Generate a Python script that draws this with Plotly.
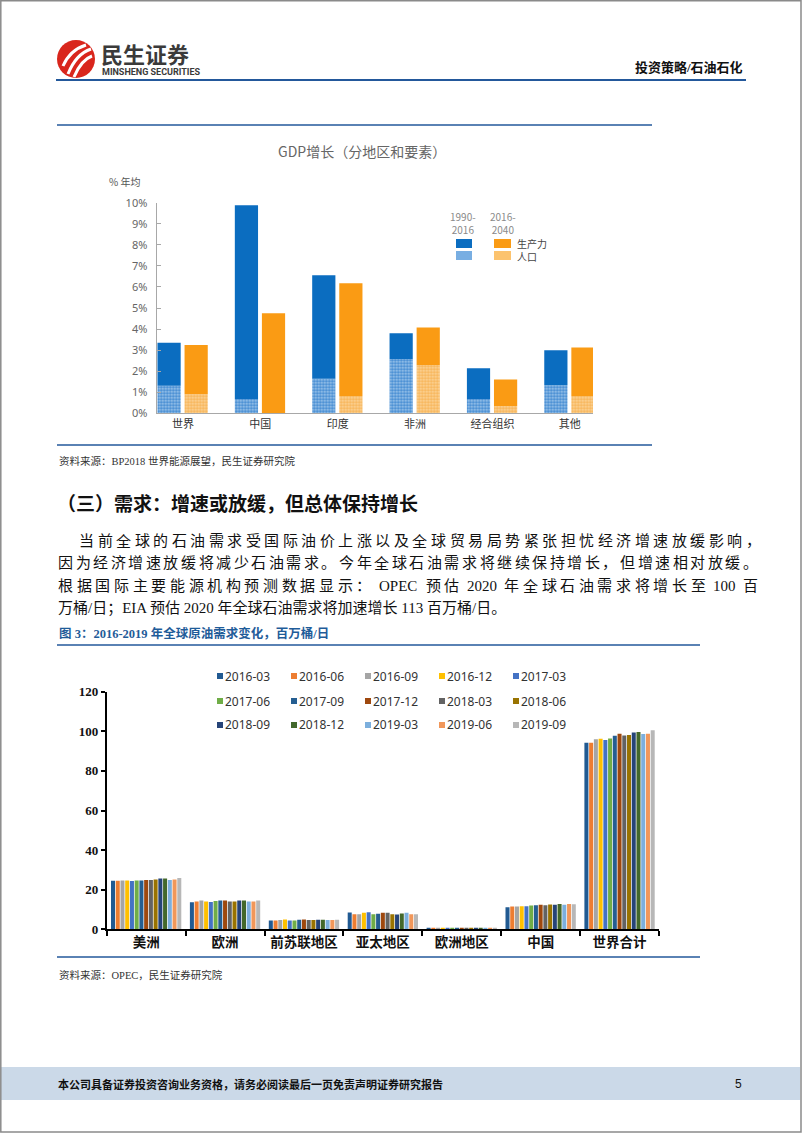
import re
import plotly.graph_objects as go

W, H = 802, 1133


def px(x):
    return x / W


def py(y):
    return 1 - y / H


# ---------------- data: GDP growth chart ----------------
gdp_regions = ["世界", "中国", "印度", "非洲", "经合组织", "其他"]
gdp_pop_9016 = [1.31, 0.68, 1.64, 2.58, 0.68, 1.33]      # 1990-2016 population
gdp_prod_9016 = [2.04, 9.20, 4.91, 1.22, 1.46, 1.66]     # 1990-2016 productivity
gdp_pop_1640 = [0.90, 0.00, 0.82, 2.29, 0.35, 0.82]      # 2016-2040 population
gdp_prod_1640 = [2.34, 4.75, 5.35, 1.79, 1.26, 2.31]     # 2016-2040 productivity
gdp_period_labels = ["1990-<br>2016", "2016-<br>2040"]
gdp_factor_labels = ["生产力", "人口"]

# ---------------- data: oil demand chart ----------------
oil_regions = ["美洲", "欧洲", "前苏联地区", "亚太地区", "欧洲地区", "中国", "世界合计"]
periods = ["2016-03", "2016-06", "2016-09", "2016-12", "2017-03",
           "2017-06", "2017-09", "2017-12", "2018-03", "2018-06",
           "2018-09", "2018-12", "2019-03", "2019-06", "2019-09"]
america = [24.5, 24.5, 24.7, 24.7, 24.4, 24.7, 24.7, 24.9, 24.9, 25.2, 25.7, 25.7, 24.9, 25.2, 25.9]
europe = [13.6, 14.0, 14.5, 14.1, 13.8, 14.3, 14.6, 14.5, 14.0, 14.1, 14.6, 14.5, 14.0, 14.1, 14.6]
fsu = [4.5, 4.5, 4.7, 5.0, 4.5, 4.5, 4.8, 5.0, 4.7, 4.7, 4.8, 4.8, 4.7, 4.7, 4.8]
asia_pacific = [8.5, 7.6, 7.6, 8.4, 8.6, 7.6, 7.8, 8.3, 8.4, 7.6, 7.5, 8.0, 8.3, 7.6, 7.6]
europe_region = [0.5, 0.6, 0.6, 0.6, 0.6, 0.6, 0.6, 0.7, 0.6, 0.7, 0.7, 0.8, 0.7, 0.6, 0.6]
china = [11.1, 11.5, 11.5, 11.7, 11.7, 12.0, 12.1, 12.4, 12.1, 12.5, 12.4, 12.8, 12.4, 12.8, 12.7]
world = [94.2, 94.2, 96.0, 96.3, 95.6, 96.4, 97.8, 98.7, 97.9, 98.1, 99.4, 99.6, 98.6, 98.7, 100.5]
oil_y_ticks = [0, 20, 40, 60, 80, 100, 120]

# ---------------- styles ----------------
BLUE = "#0B6DC0"
BLUE_POP_BG = "#A9CDEF"
BLUE_POP_FG = "#3C86CF"
ORANGE = "#FA9B14"
ORANGE_POP_BG = "#FDD9A0"
ORANGE_POP_FG = "#F7B254"
LINE_BLUE = "#23589B"
series_colors = ["#215A92", "#ED7D31", "#A5A5A5", "#FFC000", "#4472C4",
                 "#70AD47", "#255E91", "#9E480E", "#636363", "#997300",
                 "#264478", "#43682B", "#7CAFDD", "#F1975A", "#B7B7B7"]
CJK = "Noto Sans CJK SC"
SERIF = "Liberation Serif, Noto Sans CJK SC"

fig = go.Figure()

# ---------------- chart 1 bars ----------------
OFF_A, OFF_B, BW = -0.33, 0.02, 0.30
fig.add_bar(x=gdp_regions, y=gdp_pop_9016, base=[0] * len(gdp_regions), offset=OFF_A, width=BW,
            marker=dict(color=BLUE_POP_BG, line=dict(width=0),
                        pattern=dict(shape=".", fgcolor=BLUE_POP_FG, bgcolor=BLUE_POP_BG,
                                     size=3, solidity=0.55, fillmode="replace")),
            xaxis="x", yaxis="y", showlegend=False, name="人口 1990-2016")
fig.add_bar(x=gdp_regions, y=gdp_prod_9016, base=gdp_pop_9016, offset=OFF_A, width=BW,
            marker=dict(color=BLUE, line=dict(width=0)),
            xaxis="x", yaxis="y", showlegend=False, name="生产力 1990-2016")
fig.add_bar(x=gdp_regions, y=gdp_pop_1640, base=[0] * len(gdp_regions), offset=OFF_B, width=BW,
            marker=dict(color=ORANGE_POP_BG, line=dict(width=0),
                        pattern=dict(shape=".", fgcolor=ORANGE_POP_FG, bgcolor=ORANGE_POP_BG,
                                     size=3, solidity=0.55, fillmode="replace")),
            xaxis="x", yaxis="y", showlegend=False, name="人口 2016-2040")
fig.add_bar(x=gdp_regions, y=gdp_prod_1640, base=gdp_pop_1640, offset=OFF_B, width=BW,
            marker=dict(color=ORANGE, line=dict(width=0)),
            xaxis="x", yaxis="y", showlegend=False, name="生产力 2016-2040")

# ---------------- chart 2 bars ----------------
for i, p in enumerate(periods):
    vals = [america[i], europe[i], fsu[i], asia_pacific[i], europe_region[i], china[i], world[i]]
    fig.add_bar(x=oil_regions, y=vals, name=p, marker=dict(color=series_colors[i], line=dict(width=0)),
                xaxis="x2", yaxis="y2", showlegend=False)

shapes = []
annotations = []


def hline(x0, x1, y, color=LINE_BLUE, width=1.5):
    shapes.append(dict(type="line", xref="paper", yref="paper", x0=px(x0), x1=px(x1),
                       y0=py(y), y1=py(y), line=dict(color=color, width=width)))


def rect(x0, y0, x1, y1, fill, line_color=None, lw=0):
    shapes.append(dict(type="rect", xref="paper", yref="paper", x0=px(x0), x1=px(x1),
                       y0=py(y1), y1=py(y0), fillcolor=fill,
                       line=dict(color=line_color or fill, width=lw), layer="below"))


def text(x, y, s, size, color="#222", family=CJK, xanchor="left", weight="normal", pad=1):
    annotations.append(dict(x=px(x), y=py(y), xref="paper", yref="paper", text=s,
                            showarrow=False, xanchor=xanchor, yanchor="middle", borderpad=pad,
                            align="left" if xanchor == "left" else "center",
                            font=dict(size=size, color=color, family=family, weight=weight)))


# ---------------- page frame ----------------
shapes.append(dict(type="rect", xref="paper", yref="paper", x0=px(0.8), x1=px(801), y0=py(1132), y1=py(0.8),
                   line=dict(color="#8A8A8A", width=1.5), fillcolor="rgba(0,0,0,0)"))

# ---------------- header ----------------
shapes.append(dict(type="circle", xref="paper", yref="paper", x0=px(57), x1=px(95), y0=py(78), y1=py(40),
                   fillcolor="#D9261C", line=dict(color="#D9261C", width=0)))
for (a, b, c) in [((63, 66), (70, 50), (86, 45)), ((68, 74), (76, 54), (91, 49)), ((74, 77), (81, 60), (92, 56))]:
    path = "M {} {} Q {} {} {} {}".format(px(a[0]), py(a[1]), px(b[0]), py(b[1]), px(c[0]), py(c[1]))
    shapes.append(dict(type="path", xref="paper", yref="paper", path=path,
                       line=dict(color="white", width=3)))
text(100, 53, "民生证券", 22, "#3A3A3A", CJK, weight="bold", pad=0)
text(101, 72.5, "MINSHENG SECURITIES", 9, "#3A3A3A", "Roboto, Liberation Sans", weight="bold", pad=0)
text(745, 68, "投资策略/石油石化", 13, "#111", SERIF, xanchor="right", weight="bold")
hline(56, 746, 80, LINE_BLUE, 2)

# ---------------- chart 1 frame & texts ----------------
hline(57, 652, 125)
hline(57, 652, 445)
text(362, 151, "GDP增长（分地区和要素）", 14, "#666", CJK, xanchor="center")
text(107, 181, "% 年均", 10, "#555", CJK)
# legend of chart 1
text(463, 223, gdp_period_labels[0], 10, "#8A8A8A", CJK, xanchor="center")
text(503, 223, gdp_period_labels[1], 10, "#8A8A8A", CJK, xanchor="center")
rect(456, 239, 472, 248, BLUE)
rect(456, 251, 472, 260, "#78AEE2")
rect(494, 239, 511, 248, ORANGE)
rect(494, 251, 511, 260, "#FCC36E")
text(516, 250, "<br>".join(gdp_factor_labels), 10, "#444", CJK, pad=0)
text(57, 461, "资料来源：BP2018 世界能源展望，民生证券研究院", 10.5, "#333", SERIF)

# ---------------- text section ----------------
text(55, 502, "（三）需求：增速或放缓，但总体保持增长", 19, "#111", CJK, weight="bold")

PFS = 15.0


def tok_width(t):
    w = 0.0
    for ch in t:
        if ord(ch) > 0x2E80:
            w += PFS
        elif ch.isdigit():
            w += 0.5 * PFS
        elif ch.isupper():
            w += 0.66 * PFS
        elif ch == "/":
            w += 0.28 * PFS
        else:
            w += 0.5 * PFS
    return w


def para_line(x0, y, s, x1):
    # justified line: CJK characters one by one, latin runs kept together with a space around them
    toks = re.findall(r"[A-Za-z0-9/\-\.]+|[^\sA-Za-z0-9/\-\.]", s)
    sp = 0.25 * PFS
    widths = []
    for t in toks:
        w = tok_width(t)
        if ord(t[0]) < 0x2E80 and t[0].isalnum():
            w += 2 * sp
        widths.append(w)
    n = len(toks)
    gap = (x1 - x0 - sum(widths)) / (n - 1)
    x = x0
    for t, w in zip(toks, widths):
        lx = x + (sp if (ord(t[0]) < 0x2E80 and t[0].isalnum()) else 0)
        text(lx, y, t, PFS, "#111", SERIF, pad=0)
        x += w + gap


para_lines = [
    "当前全球的石油需求受国际油价上涨以及全球贸易局势紧张担忧经济增速放缓影响，",
    "因为经济增速放缓将减少石油需求。今年全球石油需求将继续保持增长，但增速相对放缓。",
    "根据国际主要能源机构预测数据显示：OPEC 预估 2020 年全球石油需求将增长至 100 百",
    "万桶/日；EIA 预估 2020 年全球石油需求将加速增长 113 百万桶/日。",
]
para_line(78, 541, para_lines[0], 760)
para_line(57, 563, para_lines[1], 757)
para_line(57, 586, para_lines[2], 757)
text(57, 608, para_lines[3], PFS, "#111", SERIF, pad=0)

text(57, 633, "图 3：2016-2019 年全球原油需求变化，百万桶/日", 12.5, "#1F5C99", SERIF, weight="bold")
hline(57, 700, 645)

# ---------------- chart 2 legend ----------------
col_x = [217, 291, 365, 439, 513]
row_y = [676, 701, 725]
for i, p in enumerate(periods):
    r, c = divmod(i, 5)
    x0, y0 = col_x[c], row_y[r]
    shapes.append(dict(type="rect", xref="paper", yref="paper", x0=px(x0), x1=px(x0 + 6),
                       y0=py(y0 + 3), y1=py(y0 - 3), fillcolor=series_colors[i],
                       line=dict(width=0)))
    text(x0 + 6, y0, p, 12, "#333", "Noto Sans, DejaVu Sans")

hline(57, 700, 957)
text(57, 975, "资料来源：OPEC，民生证券研究院", 10.5, "#333", SERIF)

# ---------------- footer ----------------
rect(1, 1067, 800, 1100, "#CBD9E8")
text(56, 1084, "本公司具备证券投资咨询业务资格，请务必阅读最后一页免责声明证券研究报告", 11, "#111", CJK, weight="bold")
text(744, 1084, "5", 12, "#111", "Liberation Sans", xanchor="right")

fig.update_layout(
    width=W, height=H,
    margin=dict(l=0, r=0, t=0, b=0),
    paper_bgcolor="white", plot_bgcolor="rgba(0,0,0,0)",
    template="none",
    font=dict(family=CJK, color="#333"),
    barmode="group", bargap=0.1, bargroupgap=0.15,
    showlegend=False,
    shapes=shapes, annotations=annotations,
    xaxis=dict(domain=[px(156.7), px(593)], range=[-0.34, 5.30], type="category",
               anchor="y", showline=True, linecolor="#A8A8A8", linewidth=1.3,
               ticks="", showgrid=False, zeroline=False,
               tickfont=dict(size=11, color="#333", family=CJK)),
    yaxis=dict(domain=[py(413.3), py(202.7)], range=[0, 10], dtick=1, ticksuffix="%",
               anchor="x", showline=True, linecolor="#A8A8A8", linewidth=1.3,
               ticks="inside", ticklen=4, tickcolor="#A8A8A8", showgrid=False, zeroline=False,
               ticklabelstandoff=6,
               tickfont=dict(size=11, color="#666", family="Noto Sans, DejaVu Sans")),
    xaxis2=dict(domain=[px(106.7), px(659)], range=[-0.5, 6.5], type="category",
                anchor="y2", showline=True, linecolor="#000", linewidth=1.5,
                ticks="outside", tickson="boundaries", ticklen=5, tickcolor="#000", tickwidth=1.5,
                showgrid=False, zeroline=False,
                tickfont=dict(size=13.5, color="#111", family=CJK, weight="bold")),
    yaxis2=dict(domain=[py(929.3), py(691.7)], range=[0, 120], tickvals=oil_y_ticks,
                anchor="x2", showline=True, linecolor="#000", linewidth=1.5,
                ticks="outside", ticklen=4, tickcolor="#000", tickwidth=1.5,
                showgrid=False, zeroline=False,
                tickfont=dict(size=13, color="#111", family="Liberation Serif", weight="bold")),
)

fig.write_html("out.html")
